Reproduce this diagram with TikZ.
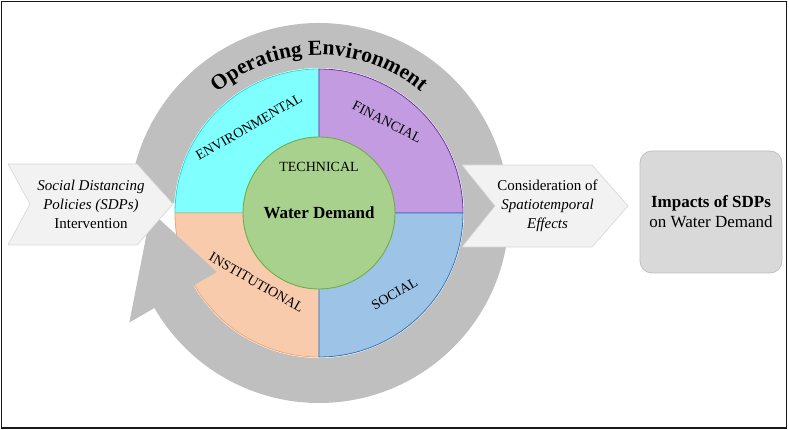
\documentclass[tikz,border=0pt]{standalone}
\usepackage{fontspec}
\setmainfont{Liberation Serif}
\usepackage{tikz}
\usetikzlibrary{decorations.text}

\definecolor{ringgray}{HTML}{BFBFBF}
\definecolor{envfill}{HTML}{80FFFF}
\definecolor{envline}{HTML}{22DDDD}
\definecolor{finfill}{HTML}{C39BE0}
\definecolor{finline}{HTML}{7030A0}
\definecolor{insfill}{HTML}{F8CBAD}
\definecolor{insline}{HTML}{F4A46C}
\definecolor{socfill}{HTML}{9DC3E6}
\definecolor{socline}{HTML}{2E75B6}
\definecolor{corefill}{HTML}{A9D18E}
\definecolor{coreline}{HTML}{70AD47}
\definecolor{chevfill}{HTML}{F2F2F2}
\definecolor{chevline}{HTML}{D6D6D6}
\definecolor{boxfill}{HTML}{D9D9D9}
\definecolor{boxline}{HTML}{BFBFBF}

\begin{document}
\begin{tikzpicture}[x=1pt, y=1pt,
  sector/.style={line width=0.8pt},
  sectorlabel/.style={font=\fontsize{14}{16}\selectfont, inner sep=0pt},
  chevron/.style={fill=chevfill, draw=chevline, line width=0.6pt},
  chevtext/.style={font=\fontsize{15}{19}\selectfont, align=center, inner sep=0pt}]
\useasboundingbox (-319,213) rectangle (470,-217);
\filldraw[sector, fill=envfill, draw=envline] (0,0) -- (180:144) arc[start angle=180, end angle=90, radius=144] -- cycle;
\filldraw[sector, fill=finfill, draw=finline] (0,0) -- (90:144) arc[start angle=90, end angle=0, radius=144] -- cycle;
\filldraw[sector, fill=insfill, draw=insline] (0,0) -- (-90:144) arc[start angle=-90, end angle=-180, radius=144] -- cycle;
\filldraw[sector, fill=socfill, draw=socline] (0,0) -- (0:144) arc[start angle=0, end angle=-90, radius=144] -- cycle;
\fill[ringgray] (176:190) arc[start angle=176, end angle=-150, radius=190] -- (-150:219) -- (179.5:168) -- (-150:118) -- (-150:145) arc[start angle=-150, end angle=176, radius=145] -- cycle;
\node (core) [draw=coreline, fill=corefill, shape=circle, line width=0.9pt, minimum size=152pt, inner sep=0pt] at (0,0) {};
\node (wd) [font=\fontsize{17}{20}\selectfont\bfseries] at (0,0) {Water Demand};
\node (tech) [sectorlabel] at (0,46) {TECHNICAL};
\node (env) [sectorlabel, rotate=30] at (-70,86) {ENVIRONMENTAL};
\node (fin) [sectorlabel, rotate=-27] at (68,91) {FINANCIAL};
\node (ins) [sectorlabel, rotate=-30] at (-62.5,-69.6) {INSTITUTIONAL};
\node (soc) [sectorlabel, rotate=30] at (75.5,-81) {SOCIAL};
\path[decorate, decoration={text along path, text align=center,
  text={|\fontsize{21.5}{22}\selectfont\bfseries|Operating Environment}}]
  (180:158) arc[start angle=180, end angle=0, radius=158];
\draw[chevron] (-311,49) -- (-289,9) -- (-311,-32) -- (-182,-32) -- (-146,9) -- (-182,49) -- cycle;
\node (sdp) [chevtext] at (-228,9) {\textit{Social Distancing}\\ \textit{Policies (SDPs)}\\ Intervention};
\draw[chevron] (143,48) -- (176,7) -- (143,-34) -- (273,-34) -- (309,7) -- (273,48) -- cycle;
\node (spatial) [chevtext] at (228.5,7.5) {Consideration of\\ \textit{Spatiotemporal}\\ \textit{Effects}};
\node (impact) [draw=boxline, fill=boxfill, rounded corners=12pt, line width=0.8pt, minimum width=142pt, minimum height=122pt, align=center, font=\fontsize{17}{20}\selectfont] at (392,1) {\textbf{Impacts of SDPs}\\ on Water Demand};
\draw[line width=1.5pt, black!90] (-317.5,211.5) rectangle (467.5,-215);
\end{tikzpicture}
\end{document}
